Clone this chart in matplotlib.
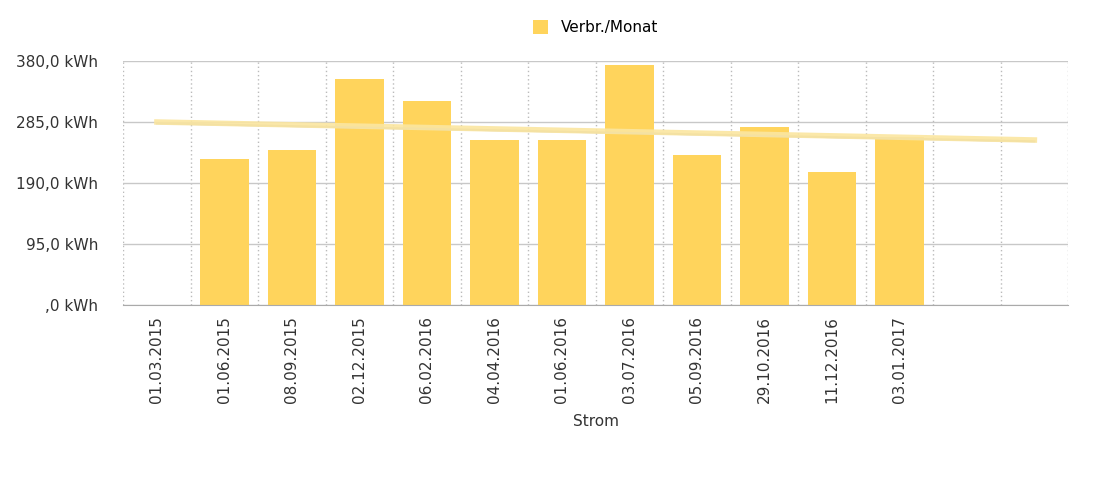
import numpy as np
import matplotlib.pyplot as plt
from matplotlib.ticker import FuncFormatter

dates = ['01.03.2015', '01.06.2015', '08.09.2015', '02.12.2015', '06.02.2016',
         '04.04.2016', '01.06.2016', '03.07.2016', '05.09.2016', '29.10.2016',
         '11.12.2016', '03.01.2017', '', '']
verbrauch = [0, 227, 241, 352, 318, 257, 257, 374, 234, 277, 207, 262, 0, 0]
trend_y = [285, 257]
trend_x = [0, 13]

fig = plt.figure(figsize=(11, 4.92), dpi=100)
ax = fig.add_axes([0.112, 0.380, 0.859, 0.496])

x = np.arange(len(dates))
ax.bar(x, verbrauch, width=0.72, color='#FFD45C', label='Verbr./Monat', zorder=2)
ax.plot(trend_x, [v - 2 for v in trend_y], color='#bbbbbb', lw=1.5, zorder=3)
ax.plot(trend_x, trend_y, color='#FBE6A0', lw=4, alpha=0.9, zorder=4)

ax.set_xlim(-0.5, len(dates) - 0.5)
ax.set_ylim(0, 380)
ax.set_yticks([0, 95, 190, 285, 380])
ax.yaxis.set_major_formatter(FuncFormatter(
    lambda v, p: (',0 kWh' if v == 0 else f'{v:.1f}'.replace('.', ',') + ' kWh')))
ax.set_xticks(x)
ax.set_xticklabels(dates, rotation=90, fontsize=11, color='#333333')
ax.tick_params(axis='y', labelsize=11, colors='#333333', length=0, pad=18)
ax.tick_params(axis='x', length=0, pad=8)

ax.grid(axis='y', color='#c8c8c8', lw=1, zorder=0)
for b in np.arange(-0.5, len(dates), 1.0):
    ax.axvline(b, color='#bbbbbb', ls=(0, (1, 2)), lw=1, zorder=1)
for s in ['top', 'right', 'left']:
    ax.spines[s].set_visible(False)
ax.spines['bottom'].set_color('#aaaaaa')

ax.set_xlabel('Strom', fontsize=11, color='#333333', labelpad=8)
ax.legend(loc='lower center', bbox_to_anchor=(0.5, 1.05), frameon=False,
          fontsize=11, handlelength=1.0, handleheight=1.0)

fig.savefig('out.png', dpi=100)
